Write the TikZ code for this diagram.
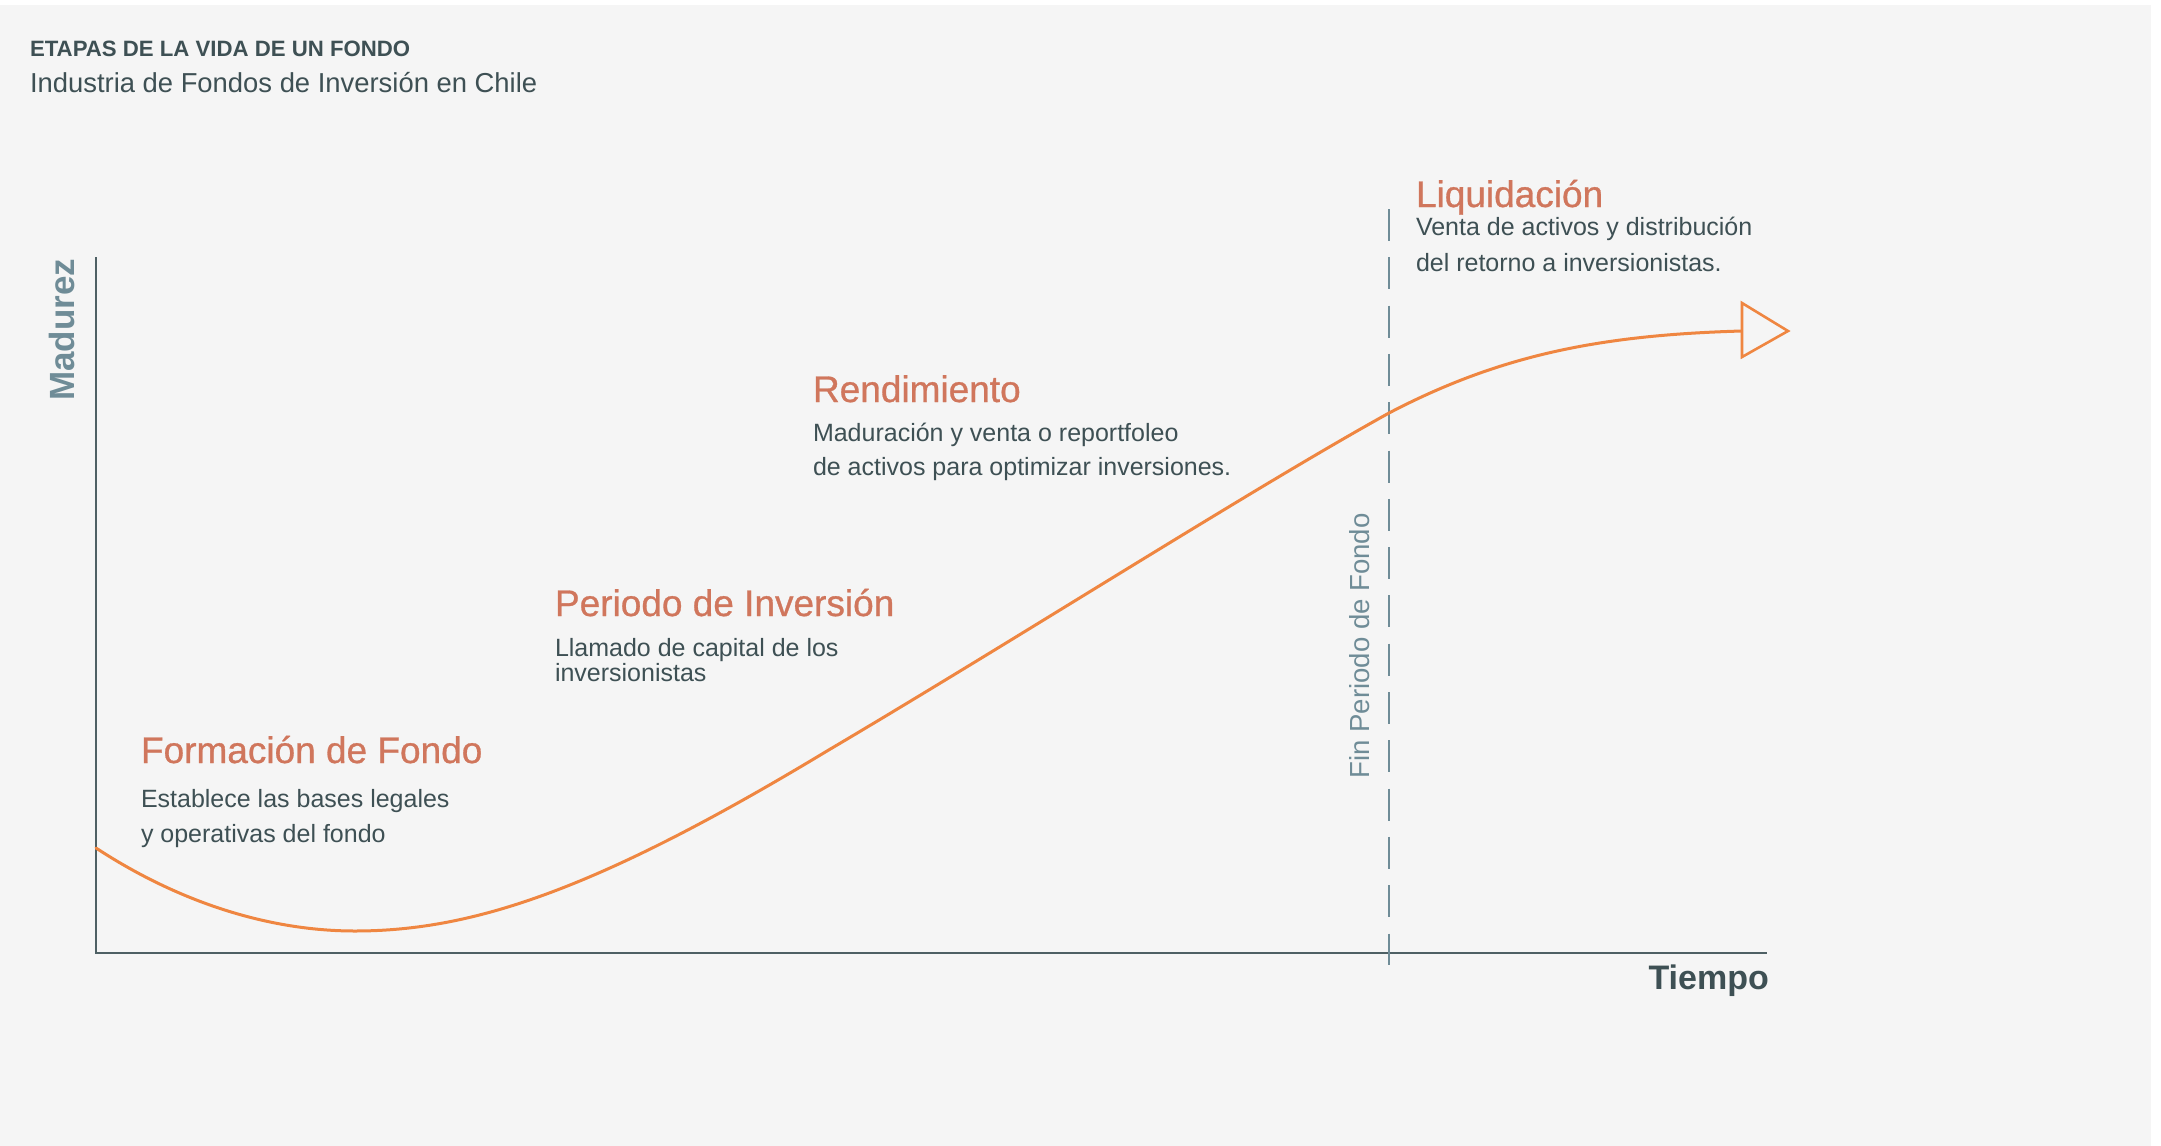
\documentclass[tikz,border=0pt]{standalone}
\usepackage{fontspec}
\setmainfont{Liberation Sans}
\newfontfamily\stagefont[FakeBold=0.8]{Liberation Sans}
\definecolor{panel}{HTML}{F5F5F5}
\definecolor{curveorange}{HTML}{EF8641}
\definecolor{stagehead}{HTML}{D0765C}
\definecolor{slate}{HTML}{3E5054}
\definecolor{axisgray}{HTML}{4E6064}
\definecolor{bluegray}{HTML}{6F8C97}
\begin{document}
\begin{tikzpicture}[x=1pt,y=-1pt,
  txt/.style={inner sep=0pt, outer sep=0pt, anchor=base west},
  heading/.style={txt, text=stagehead, font=\stagefont\fontsize{37}{44}\selectfont},
  bodytext/.style={txt, text=slate, font=\fontsize{25}{30}\selectfont},
  axisline/.style={draw=axisgray, line width=2pt},
  growth/.style={draw=curveorange, line width=3pt},
  fundend/.style={draw=bluegray, line width=2.6pt, dash pattern=on 32pt off 16.3pt}]

% page and panel
\useasboundingbox (0,0) rectangle (2161,1146);
\fill[white] (0,0) rectangle (2161,1146);
\fill[panel] (0,5) rectangle (2151,1146);

% header
\node[txt, text=slate, font=\fontsize{22.2}{26}\selectfont\bfseries] (title) at (30,56.5) {ETAPAS DE LA VIDA DE UN FONDO};
\node[txt, text=slate, font=\fontsize{27.4}{32}\selectfont] (subtitle) at (30,92) {Industria de Fondos de Inversión en Chile};

% axes
\coordinate (origin) at (96,953);
\coordinate (ytop) at (96,257);
\coordinate (xend) at (1767,953);
\draw[axisline] (ytop) -- (origin) -- (xend);
\node[inner sep=0pt, anchor=base, rotate=90, text=bluegray, font=\fontsize{35}{40}\selectfont\bfseries] (ylabel) at (74,330) {Madurez};
\node[inner sep=0pt, anchor=base east, text=slate, font=\fontsize{34}{40}\selectfont\bfseries] (xlabel) at (1769,989) {Tiempo};

% end of the fund period
\coordinate (endtop) at (1389,209);
\coordinate (endbot) at (1389,965);
\draw[fundend] (endtop) -- (endbot);
\node[inner sep=0pt, anchor=base, rotate=90, text=bluegray, font=\fontsize{27.6}{32}\selectfont] (endlabel) at (1369,646) {Fin Periodo de Fondo};

% maturity curve with open arrowhead
\coordinate (c0) at (96,848);
\coordinate (c1) at (355,931);
\coordinate (c2) at (827,751);
\coordinate (c3) at (1389,413);
\coordinate (c4) at (1742,331);
\draw[growth, line cap=round]
  (c0) .. controls (180,903) and (270,931) .. (c1)
       .. controls (475,931) and (600,888) .. (c2)
       .. controls (1020,637) and (1250,490) .. (c3)
       .. controls (1500,355) and (1600,335) .. (c4);
\coordinate (tip) at (1788,331);
\filldraw[draw=curveorange, fill=panel, line width=2.6pt, line join=miter]
  (1742,303) -- (tip) -- (1742,357) -- cycle;

% stages
\node[heading] (h1) at (141,763) {Formación de Fondo};
\node[bodytext] (b1a) at (141,807) {Establece las bases legales};
\node[bodytext] (b1b) at (141,842) {y operativas del fondo};

\node[heading] (h2) at (555,616) {Periodo de Inversión};
\node[bodytext] (b2a) at (555,656) {Llamado de capital de los};
\node[bodytext] (b2b) at (555,681) {inversionistas};

\node[heading] (h3) at (813,402) {Rendimiento};
\node[bodytext] (b3a) at (813,441) {Maduración y venta o reportfoleo};
\node[bodytext] (b3b) at (813,475) {de activos para optimizar inversiones.};

\node[heading] (h4) at (1416,207) {Liquidación};
\node[bodytext] (b4a) at (1416,235) {Venta de activos y distribución};
\node[bodytext] (b4b) at (1416,271) {del retorno a inversionistas.};
\end{tikzpicture}
\end{document}
